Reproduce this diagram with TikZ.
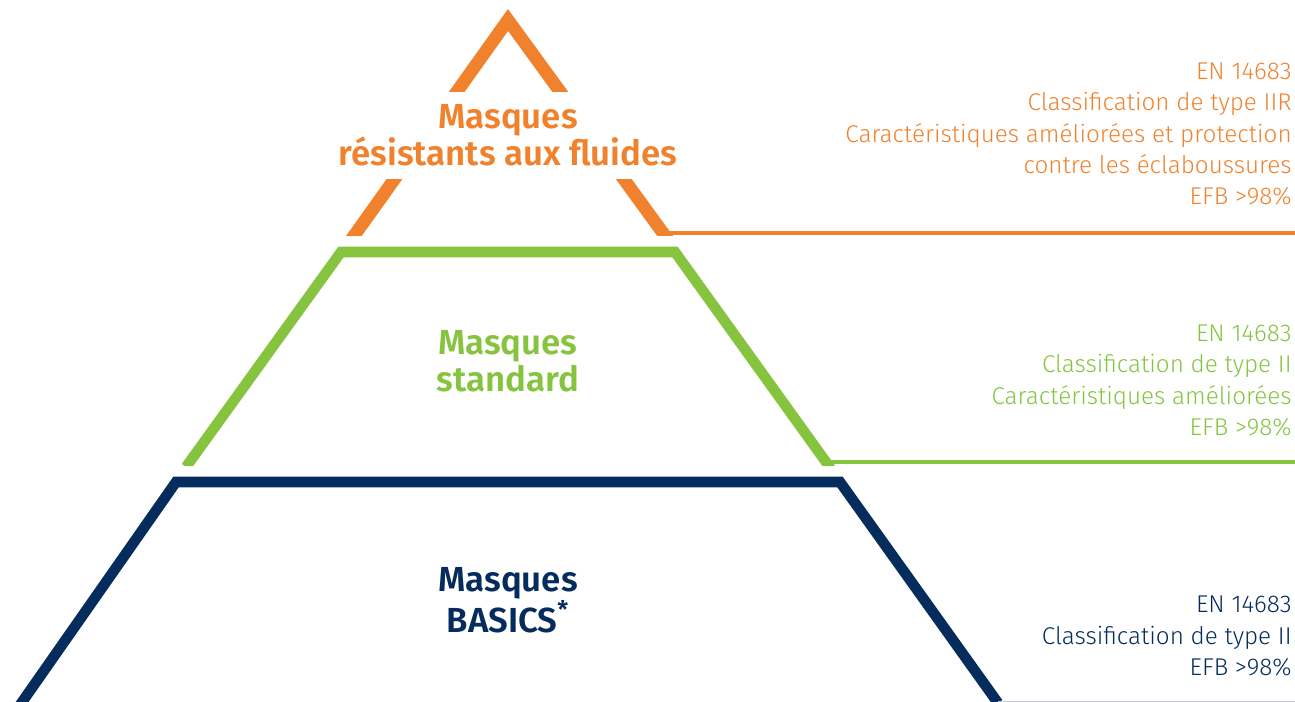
\documentclass[tikz,border=0pt]{standalone}
\usepackage{fontspec}
\setmainfont{Fira Sans}
\newfontfamily\specFont{Fira Sans Light}
\newfontfamily\titleFont{Fira Sans SemiBold}
\usetikzlibrary{positioning, calc}
\definecolor{maskOrange}{HTML}{F0822D}
\definecolor{maskGreen}{HTML}{86C440}
\definecolor{maskNavy}{HTML}{052C5C}
\tikzset{%
	% Specifications for style of tiers:
	tier/.style = {line width=6pt, line join=miter, line cap=butt},
	ledger/.style = {line width=2.3pt},
	tierTitle/.style = {align=center, inner xsep=0pt,
		font=\fontsize{19.8pt}{21pt}\selectfont\titleFont},
	tierSpec/.style = {align=right, anchor=east, inner sep=0pt,
		font=\fontsize{13.8pt}{17.9pt}\selectfont\specFont}
}

\begin{document}
\begin{tikzpicture}[x=0.02cm, y=-0.02cm]
		\useasboundingbox (0,0) rectangle (1295,701);
		\clip (0,0) rectangle (1295,701);
		% top tier
		\coordinate (fluidApex) at (508,20);
		\coordinate (fluidLeft) at (351,240);
		\coordinate (fluidRight) at (663,233);
		\coordinate (fluidEnd) at (1295,233);
		\begin{scope}
			\clip (0,0) rectangle (1295,235.5);
			\draw[tier, line width=7.3pt, maskOrange] (fluidLeft) -- (fluidApex) -- ($(fluidRight)!-0.05!(fluidApex)$);
		\end{scope}
		\draw[ledger, maskOrange] (fluidRight) -- (fluidEnd);
		\node (fluidTitle) [tierTitle, text=maskOrange, fill=white, minimum height=1.74cm] at (508,135.5) {Masques\\résistants aux fluides};
		\node (fluidSpec) [tierSpec, text=maskOrange] at (1292,134) {EN 14683\\Classification de type IIR\\Caractéristiques améliorées et protection\\contre les éclaboussures\\EFB >98\%};
		% middle tier
		\coordinate (standardTopLeft) at (341,252);
		\coordinate (standardTopRight) at (675,252);
		\coordinate (standardLeft) at (186,467);
		\coordinate (standardRight) at (826,462);
		\coordinate (standardEnd) at (1295,462);
		\begin{scope}
			\clip (0,0) rectangle (1295,465);
			\draw[tier, maskGreen] (standardLeft) -- (standardTopLeft) -- (standardTopRight) -- ($(standardRight)!-0.03!(standardTopRight)$);
		\end{scope}
		\draw[ledger, maskGreen] (standardRight) -- (standardEnd);
		\node (standardTitle) [tierTitle, text=maskGreen] at (508,361) {Masques\\standard};
		\node (standardSpec) [tierSpec, text=maskGreen] at (1292,380.5) {EN 14683\\Classification de type II\\Caractéristiques améliorées\\EFB >98\%};
		% bottom tier
		\coordinate (basicsTopLeft) at (176,482);
		\coordinate (basicsTopRight) at (840,482);
		\coordinate (basicsLeft) at (20,705);
		\coordinate (basicsRight) at (998,703);
		\coordinate (basicsEnd) at (1295,703);
		\draw[tier, maskNavy] (basicsLeft) -- (basicsTopLeft) -- (basicsTopRight) -- (basicsRight);
		\draw[ledger, maskNavy!25] (basicsRight) -- (basicsEnd);
		\node (basicsTitle) [tierTitle, text=maskNavy] at (508,600) {Masques\\BASICS\textsuperscript{*}};
		\node (basicsSpec) [tierSpec, text=maskNavy] at (1292,636) {EN 14683\\Classification de type II\\EFB >98\%};
	\end{tikzpicture}
\end{document}
